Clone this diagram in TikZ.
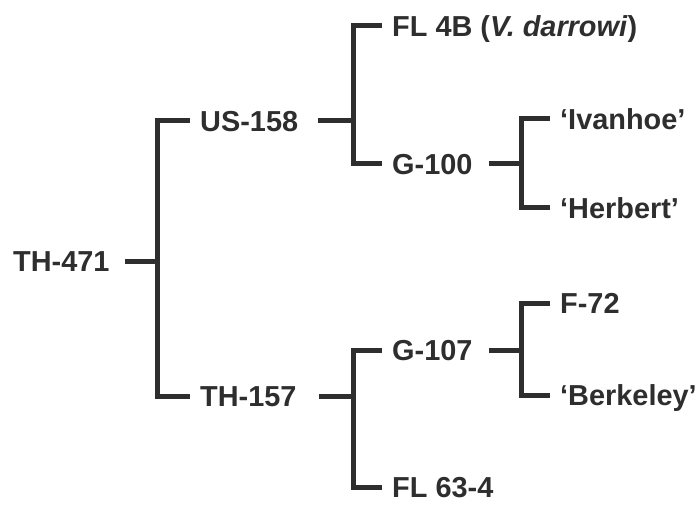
\documentclass[tikz,border=0pt]{standalone}
\usepackage{fontspec}
\setmainfont{Liberation Sans}
\usetikzlibrary{positioning}
\definecolor{Ink}{HTML}{2E2E2E}

\begin{document}
\begin{tikzpicture}[x=1bp,y=-1bp,
  lbl/.style={anchor=west,inner sep=0pt,text height=20.8bp,text depth=0pt,text=Ink,font=\fontsize{29}{34}\selectfont\bfseries},
  link/.style={Ink,line width=5bp}]
\useasboundingbox (0,0) rectangle (699,506);
\node[lbl] (th471) at (13,261) {TH-471};
\node[lbl] (us158) at (200,121) {US-158};
\node[lbl] (th157) at (200,396) {TH-157};
\node[lbl] (fl4b) at (392,26) {FL 4B (\textit{V. darrowi})};
\node[lbl] (g100) at (392,164) {G-100};
\node[lbl] (g107) at (392,350) {G-107};
\node[lbl] (fl634) at (392,487) {FL 63-4};
\foreach \nm/\y/\txt in {ivanhoe/119/‘Ivanhoe’,herbert/208/‘Herbert’,f72/303/F-72,berkeley/395/‘Berkeley’}{\node[lbl] (\nm) at (560,\y) {\txt};}
% spines of the brackets
\coordinate (s1) at (157,0);
\coordinate (s2) at (353,0);
\coordinate (s3) at (521,0);
\foreach \pa/\sp/\gap in {th471/s1/15,us158/s2/20,th157/s2/22,g100/s3/16,g107/s3/16}{\draw[link] ([xshift=\gap bp]\pa.east) -- (\pa.east -| \sp);}
\foreach \ca/\cb/\sp in {us158/th157/s1,fl4b/g100/s2,g107/fl634/s2,ivanhoe/herbert/s3,f72/berkeley/s3}{\draw[link] ([xshift=-10bp]\ca.west) -- (\ca.west -| \sp) -- (\cb.west -| \sp) -- ([xshift=-10bp]\cb.west);}
\end{tikzpicture}
\end{document}
